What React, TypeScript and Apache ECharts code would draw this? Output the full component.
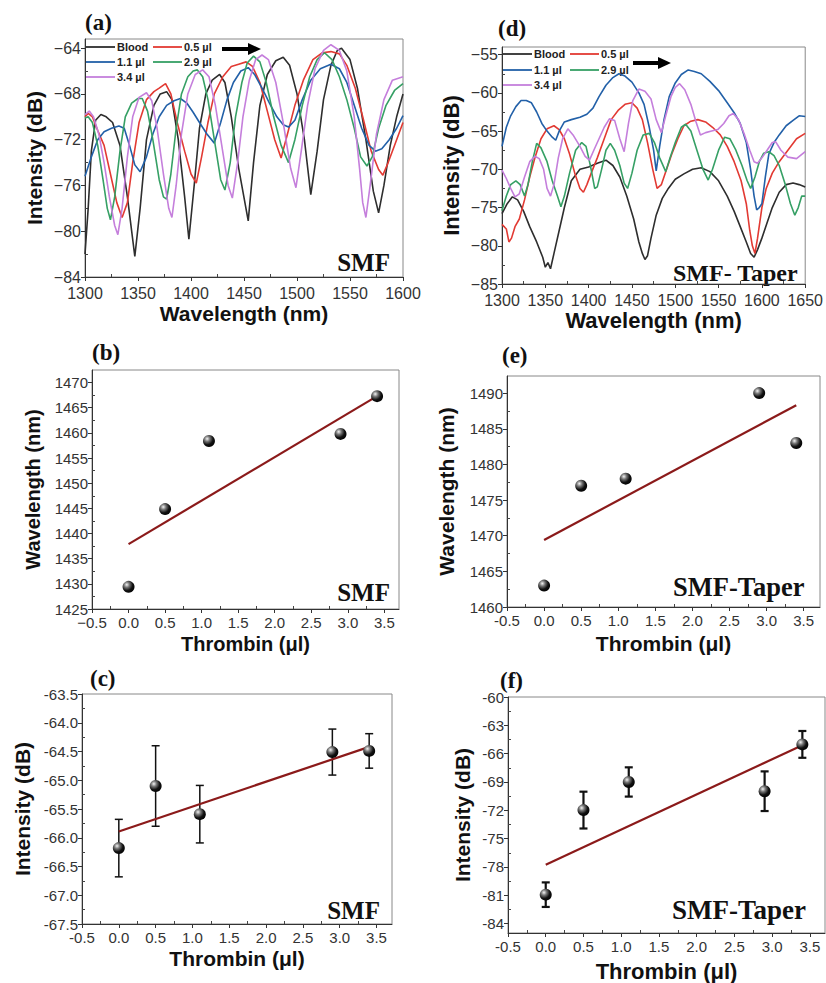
import React, { useEffect, useRef } from 'react';
import * as echarts from 'echarts';

// ---------- data ----------
const seriesNames = ['Blood', '0.5 µl', '1.1 µl', '2.9 µl', '3.4 µl'];

// panel (a) SMF spectra [wavelength nm, intensity dB]
const aBlood = [[1300,-82],[1303,-78],[1306,-73],[1310,-70.3],[1315,-69.8],[1320,-70],[1326,-70.5],[1333,-72.5],[1340,-77],[1347,-82.2],[1352,-78],[1358,-72],[1365,-69],[1371,-68],[1377,-67.8],[1382,-68.5],[1388,-72],[1394,-77],[1398,-80.7],[1403,-76],[1408,-71],[1414,-68],[1420,-66.8],[1427,-66.3],[1432,-67],[1438,-70],[1445,-74.5],[1454,-79.1],[1459,-74],[1465,-69],[1472,-66.3],[1480,-65.1],[1487,-64.8],[1493,-65.5],[1500,-68],[1507,-72],[1513,-76.8],[1519,-73],[1525,-68.5],[1532,-65.5],[1538,-64.2],[1542,-64],[1550,-65],[1557,-67.5],[1565,-72],[1572,-76.5],[1577,-78.4],[1582,-76],[1588,-72.5],[1594,-70],[1600,-68]];
const aHalf = [[1300,-70],[1303,-69.7],[1307,-70],[1312,-71.2],[1318,-72.5],[1324,-75],[1330,-77.5],[1335,-78.8],[1340,-77.5],[1345,-74],[1351,-70.5],[1358,-68.5],[1365,-67.8],[1370,-67.5],[1376,-67.1],[1381,-68],[1387,-70.5],[1394,-73],[1400,-75],[1405,-75.8],[1410,-73.5],[1416,-70.5],[1422,-68],[1430,-66.5],[1438,-65.6],[1445,-65.4],[1452,-65.2],[1458,-65.6],[1465,-67],[1472,-69.5],[1479,-72],[1485,-73.6],[1491,-71.5],[1498,-69],[1506,-66.8],[1515,-65],[1524,-64.4],[1532,-64.3],[1540,-64.5],[1547,-65.5],[1555,-67.5],[1562,-70],[1570,-73],[1577,-74.6],[1581,-75.1],[1586,-74],[1592,-72.5],[1600,-70.5]];
const aOne = [[1300,-75.2],[1306,-73.5],[1312,-72],[1318,-71.3],[1325,-71],[1332,-70.8],[1337,-71],[1342,-72.5],[1347,-74.2],[1352,-74.8],[1358,-73.5],[1364,-71.5],[1370,-70],[1377,-69],[1384,-68.6],[1390,-68.4],[1396,-68.8],[1402,-69.6],[1408,-70.5],[1415,-71.5],[1422,-72.3],[1428,-70.5],[1434,-68.5],[1440,-67],[1447,-66],[1454,-65.7],[1460,-66.3],[1467,-67.5],[1474,-68.8],[1481,-70],[1487,-70.7],[1492,-70.9],[1498,-70.3],[1505,-68.5],[1513,-66.8],[1522,-65.8],[1532,-65.4],[1540,-65.8],[1547,-67],[1554,-69],[1561,-71],[1568,-72.5],[1574,-73],[1580,-72.8],[1587,-72],[1594,-71],[1600,-69.9]];
const aTwoNine = [[1300,-70.1],[1303,-70],[1307,-70.5],[1312,-72.5],[1317,-75.5],[1321,-78],[1324,-79],[1328,-77],[1333,-73],[1338,-70],[1344,-68.8],[1350,-68.4],[1354,-68.4],[1359,-69.5],[1364,-72],[1370,-75.5],[1374,-77],[1377,-77.2],[1381,-75],[1386,-71],[1391,-68],[1397,-66.5],[1402,-66],[1406,-65.9],[1411,-66.5],[1416,-68.5],[1422,-72],[1428,-75.5],[1432,-76.4],[1437,-74],[1442,-70],[1448,-67],[1453,-65.3],[1459,-64.7],[1465,-65.2],[1471,-67],[1478,-70],[1485,-72.5],[1492,-74],[1498,-72],[1505,-69],[1512,-66.5],[1519,-65],[1526,-64.4],[1533,-65],[1540,-66.5],[1547,-68.5],[1554,-71],[1560,-73.5],[1566,-74.3],[1571,-73.5],[1577,-71],[1584,-69],[1592,-67.7],[1600,-67.1]];
const aThreeFour = [[1300,-69.8],[1304,-69.5],[1308,-70],[1313,-71.5],[1318,-74],[1323,-77],[1328,-79.5],[1331,-80.3],[1335,-78],[1340,-73.5],[1345,-70],[1351,-68.3],[1358,-67.9],[1363,-68.6],[1368,-71],[1374,-75],[1379,-78],[1382,-78.8],[1386,-76],[1391,-71.5],[1397,-68],[1404,-66.3],[1411,-65.9],[1417,-66.5],[1423,-69],[1429,-72.5],[1435,-76],[1439,-77.1],[1444,-74],[1449,-70],[1455,-66.8],[1461,-65],[1467,-64.6],[1473,-65],[1480,-67],[1487,-70.5],[1494,-74.5],[1499,-76.2],[1504,-73],[1510,-69],[1517,-65.8],[1525,-64.2],[1532,-63.7],[1540,-64.2],[1547,-66],[1554,-70],[1559,-74.5],[1562,-77.5],[1565,-78.8],[1569,-76],[1575,-71.5],[1582,-68.5],[1590,-66.8],[1600,-66.5]];

// panel (d) SMF-Taper spectra
const dBlood = [[1300,-75.8],[1306,-74.5],[1312,-73.6],[1318,-74],[1325,-75.5],[1332,-77.5],[1340,-79.5],[1347,-81.5],[1350,-82.8],[1353,-82.2],[1356,-83],[1360,-81],[1366,-78],[1372,-75],[1380,-71.5],[1390,-70],[1400,-69.7],[1410,-69.2],[1420,-68.8],[1428,-69.5],[1436,-71],[1444,-73.5],[1452,-76.5],[1458,-79.5],[1462,-81],[1465,-81.8],[1468,-81.3],[1472,-79],[1478,-76],[1485,-73.8],[1492,-72.5],[1500,-71.3],[1510,-70.6],[1520,-70],[1530,-69.8],[1540,-70.3],[1550,-71.5],[1560,-73.5],[1568,-75.5],[1575,-77.5],[1582,-79.5],[1587,-81],[1591,-81.5],[1595,-80.5],[1600,-79],[1606,-77],[1612,-75],[1620,-73],[1628,-72],[1636,-71.8],[1643,-72],[1650,-72.3]];
const dHalf = [[1300,-77.2],[1305,-77.8],[1308,-79.5],[1311,-79],[1315,-77.5],[1320,-76.5],[1326,-74],[1332,-71],[1338,-68.5],[1345,-66],[1352,-64.7],[1360,-64.3],[1366,-64.8],[1372,-66],[1378,-68],[1384,-70.5],[1390,-72.5],[1394,-73],[1398,-72],[1403,-70.5],[1410,-68.5],[1418,-66],[1426,-63.5],[1434,-62.3],[1442,-61.5],[1450,-61.3],[1456,-62],[1462,-63.5],[1468,-66.5],[1474,-70],[1479,-72.5],[1484,-72],[1490,-70],[1496,-68],[1503,-66],[1510,-64.3],[1518,-63.7],[1526,-63.5],[1535,-63.8],[1543,-64.5],[1552,-65.5],[1560,-67],[1568,-69],[1576,-71.5],[1582,-74.5],[1586,-78],[1589,-80],[1592,-81],[1595,-79],[1600,-75],[1605,-72.5],[1612,-70.5],[1620,-69],[1630,-67.5],[1640,-66],[1650,-65.3]];
const dOne = [[1300,-67],[1305,-64.5],[1310,-63],[1316,-61.8],[1322,-61],[1328,-61],[1334,-61.3],[1340,-62.5],[1346,-64],[1352,-65],[1358,-65.8],[1362,-66.2],[1366,-65],[1372,-63.8],[1380,-63.5],[1390,-63.2],[1398,-62.8],[1405,-62],[1412,-60.5],[1420,-59],[1428,-58],[1435,-57.5],[1442,-57.8],[1450,-58.6],[1458,-60],[1464,-61.5],[1470,-64.5],[1475,-67.5],[1478,-70.2],[1482,-67],[1487,-63.5],[1493,-60.5],[1500,-58.7],[1507,-57.6],[1515,-57],[1522,-57.2],[1530,-57.5],[1540,-58.5],[1550,-59.7],[1560,-61.3],[1568,-62.6],[1575,-64],[1582,-66.5],[1587,-70],[1591,-73.5],[1594,-75.3],[1597,-75],[1600,-74.5],[1604,-71],[1608,-68],[1614,-66.5],[1620,-65.5],[1628,-64.3],[1636,-63.6],[1643,-63],[1650,-63.1]];
const dTwoNine = [[1300,-75.4],[1305,-73.5],[1310,-72],[1316,-71.5],[1321,-72],[1326,-73.5],[1330,-72],[1335,-69],[1340,-66.6],[1345,-67.2],[1352,-69],[1358,-71.5],[1364,-73.5],[1368,-74.9],[1372,-73.5],[1378,-70.5],[1385,-67.5],[1392,-66.5],[1397,-67],[1402,-69.5],[1407,-72.5],[1410,-72.3],[1415,-70],[1420,-67.5],[1425,-66.6],[1430,-67.5],[1436,-69.5],[1441,-71.8],[1445,-72.5],[1450,-70.5],[1456,-67.5],[1463,-65.5],[1470,-65.3],[1476,-66.5],[1482,-68.5],[1489,-70.3],[1494,-68.5],[1500,-66.5],[1507,-64.5],[1512,-64.1],[1518,-65],[1525,-67.5],[1532,-70],[1538,-71.4],[1543,-70],[1550,-67.5],[1557,-65.8],[1563,-66],[1570,-67.5],[1577,-69.5],[1583,-71.5],[1587,-72.5],[1592,-71],[1597,-69],[1602,-67.9],[1608,-67.7],[1614,-68.2],[1620,-69.5],[1627,-72],[1633,-74.5],[1638,-76],[1642,-75],[1646,-73.5],[1650,-73.5]];
const dThreeFour = [[1300,-70.1],[1305,-71.2],[1310,-72.5],[1315,-73.6],[1320,-73.2],[1326,-71],[1332,-69],[1338,-68.3],[1343,-68.6],[1348,-70],[1352,-72.5],[1356,-73.5],[1360,-72],[1365,-68.5],[1370,-66],[1376,-64.7],[1382,-65.5],[1390,-67],[1396,-68.3],[1401,-68.8],[1406,-67.5],[1412,-66],[1418,-64.5],[1424,-63.4],[1430,-63.6],[1436,-66],[1441,-67.7],[1446,-64],[1451,-61],[1458,-59.5],[1465,-59.8],[1472,-60.8],[1478,-63.5],[1484,-65.2],[1489,-63],[1495,-60.5],[1500,-59.3],[1505,-58.8],[1511,-59.6],[1518,-61.5],[1524,-63.8],[1529,-65.5],[1535,-65.2],[1542,-65],[1549,-64.8],[1556,-64],[1562,-63],[1567,-62.7],[1573,-63.5],[1580,-65.5],[1586,-67.5],[1591,-69],[1595,-69.2],[1600,-68.5],[1606,-67.5],[1612,-66.5],[1616,-66.4],[1622,-67.5],[1630,-68.4],[1640,-68.6],[1650,-67.7]];

// thrombin panels
const thrombin = [0, 0.5, 1.1, 2.9, 3.4];
const bWavelength = [1429.4, 1444.85, 1458.4, 1459.8, 1467.3];
const bFit = [[0, 1437.9], [3.4, 1467.3]];
const eWavelength = [1463, 1477, 1478, 1490, 1483];
const eFit = [[0, 1469.4], [3.4, 1488.3]];
const cIntensity = [-66.18, -65.1, -65.59, -64.51, -64.49];
const cError = [0.5, 0.7, 0.5, 0.4, 0.3];
const cFit = [[0, -65.89], [3.4, -64.42]];
const fIntensity = [-80.94, -71.98, -69.0, -69.98, -65.02];
const fError = [1.3, 1.95, 1.55, 2.1, 1.42];
const fFit = [[0, -77.78], [3.4, -65.1]];

// tick labels
const aXTicks = [1300, 1350, 1400, 1450, 1500, 1550, 1600];
const aYTicks = [-84, -80, -76, -72, -68, -64];
const dXTicks = [1300, 1350, 1400, 1450, 1500, 1550, 1600, 1650];
const dYTicks = [-85, -80, -75, -70, -65, -60, -55];
const thrombinTicks = [-0.5, 0, 0.5, 1, 1.5, 2, 2.5, 3, 3.5];
const bYTicks = [1425, 1430, 1435, 1440, 1445, 1450, 1455, 1460, 1465, 1470];
const eYTicks = [1460, 1465, 1470, 1475, 1480, 1485, 1490];
const cYTicks = [-67.5, -67, -66.5, -66, -65.5, -65, -64.5, -64, -63.5];
const fYTicks = [-84, -81, -78, -75, -72, -69, -66, -63, -60];

// ---------- styles ----------
const SANS = '"Liberation Sans", Arial, sans-serif';
const SERIF = '"Liberation Serif", "Times New Roman", serif';
const colors = ['#2e2e2e', '#e23a33', '#2260a8', '#36a065', '#c57fdc'];
const FIT = '#8b1a1a';

function midpoints(t: number[]) {
  const r: number[] = [];
  for (let i = 0; i < t.length - 1; i++) r.push((t[i] + t[i + 1]) / 2);
  return r;
}

function axisPair(dim: 'x' | 'y', gridIndex: number, min: number, max: number, ticks: number[],
  fmt: (v: number) => string, name: string, nameGap: number, labelSize: number, nameSize: number, labelMargin = 5) {
  const position = dim === 'x' ? 'bottom' : 'left';
  const main = {
    type: 'value', gridIndex, min, max, position,
    name, nameLocation: 'middle', nameGap,
    nameTextStyle: { fontFamily: SANS, fontWeight: 'bold', fontSize: nameSize, color: '#111' },
    axisLine: { show: true, onZero: false, lineStyle: { color: '#333', width: 1 } },
    axisTick: { show: true, inside: false, length: 4, customValues: ticks, lineStyle: { color: '#333' } },
    axisLabel: { show: true, customValues: ticks, formatter: fmt, fontFamily: SANS, fontSize: labelSize, color: '#333', margin: labelMargin },
    splitLine: { show: false },
  };
  const minor = {
    type: 'value', gridIndex, min, max, position,
    axisLine: { show: false, onZero: false },
    axisTick: { show: true, inside: true, length: 3, customValues: midpoints(ticks), lineStyle: { color: '#444' } },
    axisLabel: { show: false },
    splitLine: { show: false },
  };
  return [main, minor];
}

const minusInt = (v: number) => String(v).replace('-', '\u2212');
const minus1 = (v: number) => v.toFixed(1).replace('-', '\u2212');
const hyph1 = (v: number) => v.toFixed(1);
const intFmt = (v: number) => String(v);

const sphere = {
  type: 'radial', x: 0.35, y: 0.32, r: 0.75,
  colorStops: [
    { offset: 0, color: '#f4f4f4' },
    { offset: 0.3, color: '#777' },
    { offset: 0.65, color: '#111' },
    { offset: 1, color: '#000' },
  ],
};

function errorSeries(gi: number, vals: number[], errs: number[], width: number) {
  return {
    type: 'custom', xAxisIndex: 2 * gi, yAxisIndex: 2 * gi, z: 3,
    data: thrombin.map((t, i) => [t, vals[i], errs[i]]),
    encode: { x: 0, y: 1 },
    renderItem: (params: any, api: any) => {
      const x = api.value(0), y = api.value(1), e = api.value(2);
      const top = api.coord([x, y + e]);
      const bot = api.coord([x, y - e]);
      const w = 4;
      const st = { stroke: '#111', lineWidth: width };
      return {
        type: 'group',
        children: [
          { type: 'line', shape: { x1: top[0], y1: top[1], x2: bot[0], y2: bot[1] }, style: st },
          { type: 'line', shape: { x1: top[0] - w, y1: top[1], x2: top[0] + w, y2: top[1] }, style: st },
          { type: 'line', shape: { x1: bot[0] - w, y1: bot[1], x2: bot[0] + w, y2: bot[1] }, style: st },
        ],
      };
    },
  };
}

function scatterSeries(gi: number, vals: number[]) {
  return {
    type: 'scatter', xAxisIndex: 2 * gi, yAxisIndex: 2 * gi, z: 4,
    data: thrombin.map((t, i) => [t, vals[i]]),
    symbolSize: 12,
    itemStyle: { color: sphere, opacity: 1 },
  };
}

function fitSeries(gi: number, pts: number[][]) {
  return {
    type: 'line', xAxisIndex: 2 * gi, yAxisIndex: 2 * gi, z: 3,
    data: pts, showSymbol: false, symbol: 'none',
    lineStyle: { color: FIT, width: 2.2 },
  };
}

function spectraSeries(gi: number, sets: number[][][]) {
  return sets.map((d, i) => ({
    type: 'line', name: seriesNames[i], xAxisIndex: 2 * gi, yAxisIndex: 2 * gi,
    data: d, showSymbol: false, symbol: 'none', z: 2 + (i === 0 ? 0 : 1),
    lineStyle: { color: colors[i], width: 1.6 },
  }));
}

function legendGraphic(x1: number, x2: number, rows: number[]) {
  const slots = [[x1, rows[0]], [x2, rows[0]], [x1, rows[1]], [x2, rows[1]], [x1, rows[2]]];
  const out: any[] = [];
  seriesNames.forEach((n, i) => {
    const [x, y] = slots[i];
    out.push({ type: 'line', shape: { x1: x, y1: y, x2: x + 29, y2: y }, style: { stroke: colors[i], lineWidth: 1.8 } });
    out.push({ type: 'text', x: x + 31, y, style: { text: n, fill: '#222', font: `bold 11px ${SANS}`, align: 'left', verticalAlign: 'middle' } });
  });
  return out;
}

function arrow(x1: number, x2: number, y: number) {
  return [
    { type: 'line', shape: { x1, y1: y, x2: x2 - 10, y2: y }, style: { stroke: '#000', lineWidth: 4 } },
    { type: 'polygon', shape: { points: [[x2 - 13, y - 6], [x2, y], [x2 - 13, y + 6]] }, style: { fill: '#000' } },
  ];
}

function label(text: string, x: number, y: number, size: number, align = 'left') {
  return { type: 'text', x, y, style: { text, fill: '#111', font: `bold ${size}px ${SERIF}`, align, verticalAlign: 'middle' } };
}

export default function App() {
  const ref = useRef<HTMLDivElement>(null);
  useEffect(() => {
    document.body.style.margin = '0';
    if (!ref.current) return;
    const chart = echarts.init(ref.current, null, { renderer: 'svg' });

    const grids = [
      { left: 85, top: 39, width: 318, height: 238 },   // a
      { left: 502, top: 47, width: 306, height: 237 },  // d
      { left: 92, top: 370, width: 307, height: 239 },  // b
      { left: 507, top: 376, width: 313, height: 231 }, // e
      { left: 82, top: 694, width: 310, height: 230 },  // c
      { left: 508, top: 697, width: 317, height: 237 }, // f
    ].map((g) => ({ ...g, show: true, borderColor: '#888', borderWidth: 1, backgroundColor: 'transparent' }));

    const T = 'Thrombin (μl)';
    const xAxis = [
      ...axisPair('x', 0, 1300, 1600, aXTicks, intFmt, 'Wavelength (nm)', 26, 16, 21, 8),
      ...axisPair('x', 1, 1300, 1650, dXTicks, intFmt, 'Wavelength (nm)', 25, 16, 22, 8),
      ...axisPair('x', 2, -0.5, 3.7, thrombinTicks, minus1, T, 25, 15, 20, 6),
      ...axisPair('x', 3, -0.5, 3.72, thrombinTicks, hyph1, T, 26, 15, 21, 6),
      ...axisPair('x', 4, -0.5, 3.71, thrombinTicks, hyph1, T, 24, 15, 21, 6),
      ...axisPair('x', 5, -0.5, 3.7, thrombinTicks, hyph1, T, 27, 15, 22, 6),
    ];
    const yAxis = [
      ...axisPair('y', 0, -84, -63.2, aYTicks, minusInt, 'Intensity (dB)', 40, 16, 21, 4),
      ...axisPair('y', 1, -85, -54, dYTicks, minusInt, 'Intensity (dB)', 40, 16, 22, 4),
      ...axisPair('y', 2, 1425, 1472.5, bYTicks, intFmt, 'Wavelength (nm)', 49, 15, 20, 4),
      ...axisPair('y', 3, 1460, 1492.4, eYTicks, intFmt, 'Wavelength (nm)', 50, 15, 21, 4),
      ...axisPair('y', 4, -67.5, -63.5, cYTicks, hyph1, 'Intensity (dB)', 49, 15, 21, 4),
      ...axisPair('y', 5, -85, -60, fYTicks, intFmt, 'Intensity (dB)', 35, 15, 21, 4),
    ];

    const series = [
      ...spectraSeries(0, [aBlood, aHalf, aOne, aTwoNine, aThreeFour]),
      ...spectraSeries(1, [dBlood, dHalf, dOne, dTwoNine, dThreeFour]),
      fitSeries(2, bFit), scatterSeries(2, bWavelength),
      fitSeries(3, eFit), scatterSeries(3, eWavelength),
      errorSeries(4, cIntensity, cError, 1.5), fitSeries(4, cFit), scatterSeries(4, cIntensity),
      errorSeries(5, fIntensity, fError, 2.2), fitSeries(5, fFit), scatterSeries(5, fIntensity),
    ];

    const graphic = [
      ...legendGraphic(86, 153, [47, 62, 77]),
      ...arrow(222, 261, 49),
      ...legendGraphic(503, 570, [54, 70, 85]),
      ...arrow(633, 671, 63),
      label('(a)', 85, 22, 23),
      label('(d)', 498, 28, 23),
      label('(b)', 92, 352, 23),
      label('(e)', 502, 355, 23),
      label('(c)', 90, 678, 23),
      label('(f)', 500, 680, 23),
      label('SMF', 390, 262, 25, 'right'),
      label('SMF- Taper', 673, 273, 24),
      label('SMF', 390, 592, 25, 'right'),
      label('SMF-Taper', 673, 587, 26.5),
      label('SMF', 380, 910, 25, 'right'),
      label('SMF-Taper', 672, 910, 27),
    ];

    chart.setOption({
      animation: false,
      backgroundColor: '#ffffff',
      textStyle: { fontFamily: SANS },
      grid: grids,
      xAxis,
      yAxis,
      series,
      graphic,
    } as any);
    return () => chart.dispose();
  }, []);
  return <div ref={ref} style={{ width: 826, height: 983 }} />;
}
